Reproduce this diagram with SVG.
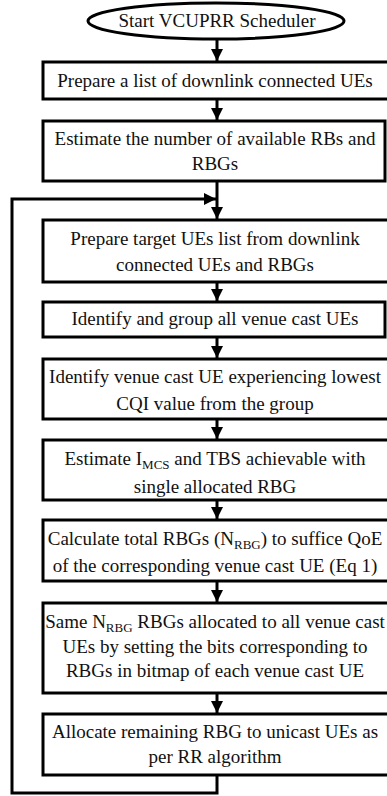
<svg xmlns="http://www.w3.org/2000/svg" width="387" height="796" viewBox="0 0 387 796">
<style>
.box{fill:#fff;stroke:#000;stroke-width:3}
.t{font-family:"Liberation Serif","Times New Roman",serif;font-size:19px;fill:#111;text-anchor:middle}
.sub{font-size:13px}
.c{fill:none;stroke:#000;stroke-width:3}
</style>
<defs>
<marker id="ah" markerUnits="userSpaceOnUse" markerWidth="12" markerHeight="12" viewBox="0 0 10 10" refX="10" refY="5" orient="auto">
<path d="M0,0 L10,5 L0,10 Z" fill="#000"/>
</marker>
</defs>
<rect width="387" height="796" fill="#fff"/>
<g id="connectors">
<line class="c" x1="217" y1="39" x2="217" y2="61" marker-end="url(#ah)"/>
<line class="c" x1="217" y1="99" x2="217" y2="120" marker-end="url(#ah)"/>
<line class="c" x1="217" y1="181" x2="217" y2="219" marker-end="url(#ah)"/>
<polyline class="c" points="217,775 217,793 12,793 12,199 216,199" marker-end="url(#ah)"/>
<line class="c" x1="217" y1="282" x2="217" y2="301" marker-end="url(#ah)"/>
<line class="c" x1="217" y1="337" x2="217" y2="358" marker-end="url(#ah)"/>
<line class="c" x1="217" y1="419" x2="217" y2="439" marker-end="url(#ah)"/>
<line class="c" x1="217" y1="500" x2="217" y2="519" marker-end="url(#ah)"/>
<line class="c" x1="217" y1="581" x2="217" y2="602" marker-end="url(#ah)"/>
<line class="c" x1="217" y1="693" x2="217" y2="713" marker-end="url(#ah)"/>
</g>
<g id="start">
<ellipse cx="216" cy="21" rx="128" ry="18" fill="#fff" stroke="#000" stroke-width="3"/>
<text class="t" x="217" y="27">Start VCUPRR Scheduler</text>
</g>
<g id="n1">
<rect class="box" x="43" y="62" width="352" height="37"/>
<text class="t" x="215" y="87">Prepare a list of downlink connected UEs</text>
</g>
<g id="n2">
<rect class="box" x="43" y="121" width="342" height="60"/>
<text class="t" x="215" y="145">Estimate the number of available RBs and</text>
<text class="t" x="215" y="170">RBGs</text>
</g>
<g id="n3">
<rect class="box" x="43" y="220" width="352" height="62"/>
<text class="t" x="215" y="245">Prepare target UEs list from downlink</text>
<text class="t" x="215" y="271">connected UEs and RBGs</text>
</g>
<g id="n4">
<rect class="box" x="43" y="302" width="342" height="35"/>
<text class="t" x="215" y="325">Identify and group all venue cast UEs</text>
</g>
<g id="n5">
<rect class="box" x="43" y="359" width="352" height="60"/>
<text class="t" x="215" y="383">Identify venue cast UE experiencing lowest</text>
<text class="t" x="215" y="410">CQI value from the group</text>
</g>
<g id="n6">
<rect class="box" x="43" y="440" width="352" height="60"/>
<text class="t" x="215" y="465">Estimate I<tspan class="sub" dy="4">MCS</tspan><tspan dy="-4"> and TBS achievable with</tspan></text>
<text class="t" x="215" y="493">single allocated RBG</text>
</g>
<g id="n7">
<rect class="box" x="43" y="520" width="352" height="61"/>
<text class="t" x="215" y="545">Calculate total RBGs (N<tspan class="sub" dy="4">RBG</tspan><tspan dy="-4">) to suffice QoE</tspan></text>
<text class="t" x="215" y="572">of the corresponding venue cast UE (Eq 1)</text>
</g>
<g id="n8">
<rect class="box" x="43" y="603" width="352" height="90"/>
<text class="t" x="215" y="628">Same N<tspan class="sub" dy="4">RBG</tspan><tspan dy="-4"> RBGs allocated to all venue cast</tspan></text>
<text class="t" x="215" y="653">UEs by setting the bits corresponding to</text>
<text class="t" x="215" y="677">RBGs in bitmap of each venue cast UE</text>
</g>
<g id="n9">
<rect class="box" x="43" y="714" width="352" height="61"/>
<text class="t" x="215" y="738">Allocate remaining RBG to unicast UEs as</text>
<text class="t" x="215" y="763">per RR algorithm</text>
</g>
</svg>
